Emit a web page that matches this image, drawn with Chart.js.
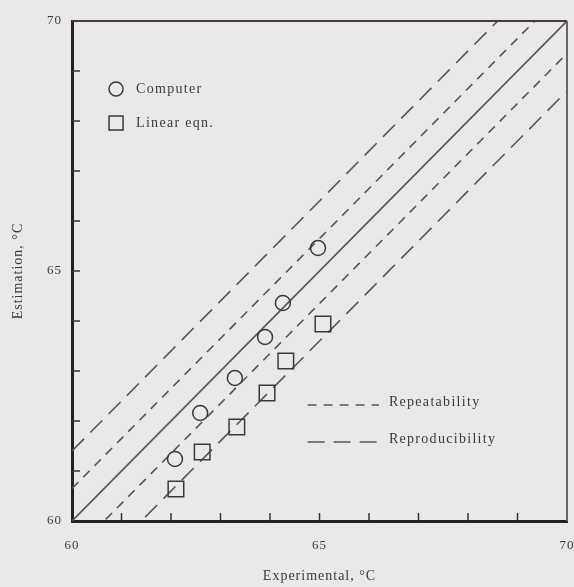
<!DOCTYPE html>
<html>
<head>
<meta charset="utf-8">
<script src="https://cdn.jsdelivr.net/npm/chart.js@4"></script>
<style>
  html, body { margin: 0; padding: 0; background: #eae8e9; }
  #wrap { width: 574px; height: 587px; }
</style>
</head>
<body>
<div id="wrap"><canvas id="myChart"></canvas></div>
<script>
  // values
  const expComputer = [62.08, 62.59, 63.29, 63.90, 64.26, 64.97];
  const estComputer = [61.24, 62.16, 62.86, 63.68, 64.36, 65.46];
  const expLinear = [62.10, 62.63, 63.33, 63.94, 64.32, 65.07];
  const estLinear = [60.64, 61.38, 61.88, 62.56, 63.20, 63.94];
  const axisRange = [60, 70];
  const tickLabels = [60, 65, 70];
  const repeatability = 0.65;   // +/- band, short dashes
  const reproducibility = 1.4;  // +/- band, long dashes

  const ink = '#3a3a3a';
  const serif = '"Liberation Serif", "DejaVu Serif", serif';

  function pts(xs, ys) {
    return xs.map((x, i) => ({ x: x, y: ys[i] }));
  }
  function band(off) {
    return [{ x: axisRange[0], y: axisRange[0] + off }, { x: axisRange[1], y: axisRange[1] + off }];
  }
  function lineSet(off, dash) {
    return {
      type: 'line', data: band(off), borderColor: '#555', borderWidth: 1.6,
      borderDash: dash, pointRadius: 0, fill: false
    };
  }

  const shortDash = [9, 7];
  const longDash = [17, 9];

  // inward ticks, frame and the legend inside the plot
  const extras = {
    id: 'extras',
    beforeDraw(chart) {
      chart.ctx.letterSpacing = '1px';
    },
    afterDraw(chart) {
      const c = chart.ctx, a = chart.chartArea;
      const xs = chart.scales.x, ys = chart.scales.y;
      c.save();
      c.strokeStyle = '#333';
      c.lineWidth = 1.5;
      for (let v = axisRange[0] + 1; v < axisRange[1]; v++) {
        const px = xs.getPixelForValue(v);
        c.beginPath(); c.moveTo(px, a.bottom); c.lineTo(px, a.bottom - 8); c.stroke();
        const py = ys.getPixelForValue(v);
        c.beginPath(); c.moveTo(a.left, py); c.lineTo(a.left + 8, py); c.stroke();
      }
      // top and right frame
      c.lineWidth = 2;
      c.strokeStyle = '#4a3a40';
      c.beginPath(); c.moveTo(a.left, a.top); c.lineTo(a.right, a.top); c.stroke();
      c.strokeStyle = '#666';
      c.beginPath(); c.moveTo(a.right, a.top); c.lineTo(a.right, a.bottom); c.stroke();

      // legend: markers
      const w = a.right - a.left, h = a.bottom - a.top;
      c.fillStyle = ink;
      c.font = '14px ' + serif;
      c.letterSpacing = '1.3px';
      c.textBaseline = 'middle';
      c.strokeStyle = ink;
      c.lineWidth = 1.5;
      let lx = a.left + 0.089 * w, ly = a.top + 0.136 * h;
      c.beginPath(); c.arc(lx, ly, 7, 0, Math.PI * 2); c.stroke();
      c.fillText('Computer', lx + 20, ly);
      ly = a.top + 0.204 * h;
      c.strokeRect(lx - 7, ly - 7, 14, 14);
      c.fillText('Linear eqn.', lx + 20, ly);

      // legend: lines
      c.strokeStyle = '#555';
      c.lineWidth = 1.6;
      const x0 = a.left + 0.476 * w, x1 = a.left + 0.62 * w;
      let y0 = a.top + 0.768 * h;
      c.setLineDash(shortDash);
      c.beginPath(); c.moveTo(x0, y0); c.lineTo(x1, y0); c.stroke();
      c.fillText('Repeatability', x1 + 10, y0 - 3);
      y0 = a.top + 0.842 * h;
      c.setLineDash(longDash);
      c.beginPath(); c.moveTo(x0, y0); c.lineTo(x1, y0); c.stroke();
      c.fillText('Reproducibility', x1 + 10, y0 - 3);
      c.restore();
    }
  };

  const ctx = document.getElementById('myChart');

  new Chart(ctx, {
    type: 'scatter',
    data: {
      datasets: [
        {
          label: 'Computer',
          data: pts(expComputer, estComputer),
          pointStyle: 'circle', pointRadius: 7.5, pointHoverRadius: 7.5,
          borderColor: ink, borderWidth: 1.5, backgroundColor: 'rgba(0,0,0,0)'
        },
        {
          label: 'Linear eqn.',
          data: pts(expLinear, estLinear),
          pointStyle: 'rect', pointRadius: 11, pointHoverRadius: 11,
          borderColor: ink, borderWidth: 1.5, backgroundColor: 'rgba(0,0,0,0)'
        },
        lineSet(0, []),
        lineSet(repeatability, shortDash),
        lineSet(-repeatability, shortDash),
        lineSet(reproducibility, longDash),
        lineSet(-reproducibility, longDash)
      ]
    },
    options: {
      responsive: true,
      maintainAspectRatio: false,
      animation: false,
      layout: { autoPadding: false, padding: { top: 21, right: 7, bottom: 0, left: 0 } },
      plugins: { legend: { display: false }, tooltip: { enabled: false } },
      scales: {
        x: {
          type: 'linear', min: axisRange[0], max: axisRange[1],
          afterFit(s) { s.height = 66; s.paddingLeft = 0; s.paddingRight = 0; },
          afterBuildTicks(s) { s.ticks = tickLabels.map(v => ({ value: v })); },
          grid: { drawOnChartArea: false, drawTicks: false },
          border: { display: true, color: '#222', width: 3 },
          ticks: { padding: 17, color: ink, font: { family: serif, size: 13 } },
          title: {
            display: true, text: 'Experimental, °C', color: ink,
            font: { family: serif, size: 14 }, padding: { top: 0, bottom: 2 }
          }
        },
        y: {
          type: 'linear', min: axisRange[0], max: axisRange[1],
          afterFit(s) { s.width = 72; s.paddingTop = 0; s.paddingBottom = 0; },
          afterBuildTicks(s) { s.ticks = tickLabels.map(v => ({ value: v })); },
          grid: { drawOnChartArea: false, drawTicks: false },
          border: { display: true, color: '#222', width: 3 },
          ticks: { padding: 10, color: ink, font: { family: serif, size: 13 } },
          title: {
            display: true, text: 'Estimation, °C', color: ink,
            font: { family: serif, size: 14 }, padding: { top: 10, bottom: 0 }
          }
        }
      }
    },
    plugins: [extras]
  });
</script>
</body>
</html>
